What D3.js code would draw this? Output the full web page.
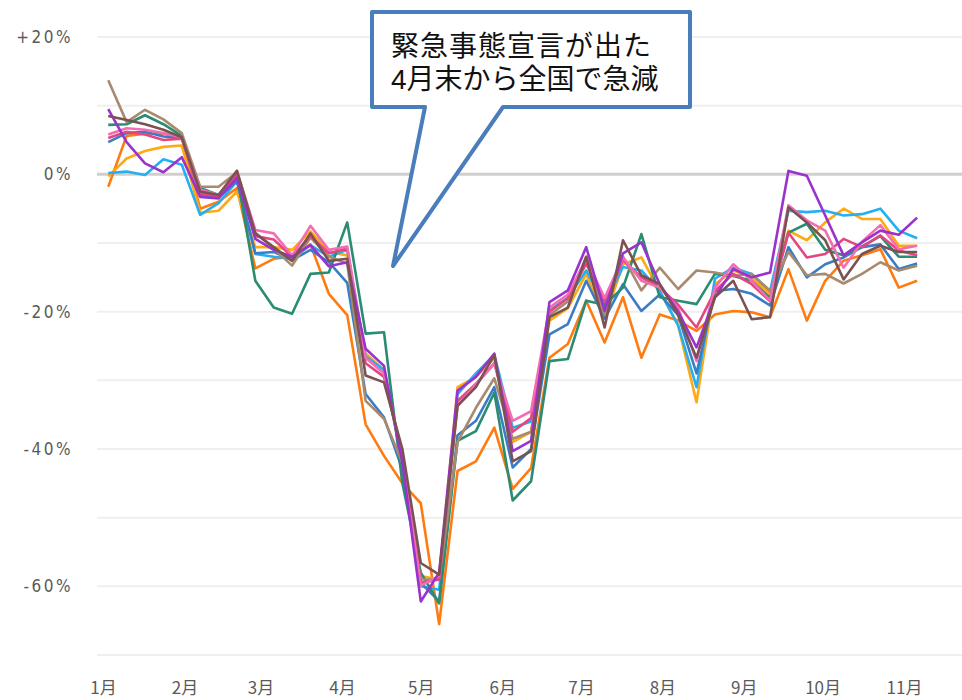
<!DOCTYPE html>
<html><head><meta charset="utf-8">
<script src="https://cdn.jsdelivr.net/npm/d3@7"></script>
<style>
html,body{margin:0;padding:0;background:#fff;}
svg{display:block;}
</style></head>
<body>
<svg id="chart" width="962" height="700"></svg>
<script>
// ---- data ----
const startDate = "2020-01-03";          // first weekly observation
const weekCount = 45;
const monthTicks = ["2020-01-01","2020-02-01","2020-03-01","2020-04-01","2020-05-01","2020-06-01","2020-07-01","2020-08-01","2020-09-01","2020-10-01","2020-11-01"];
const monthLabels = ["1月","2月","3月","4月","5月","6月","7月","8月","9月","10月","11月"];
const yTickValues = [20, 0, -20, -40, -60];
const yTickLabels = ["+20%", "0%", "-20%", "-40%", "-60%"];
const seriesNames = ["orange","amber","lightblue","blue","teal","tan","redpink","pink","purple","darkbrown"];

const orange = [-1.8, 5.6, 5.9, 5.9, 5.4, -5.0, -4.0, -2.0, -13.7, -12.3, -12.0, -10.2, -17.4, -20.5, -36.4, -41.0, -45.0, -47.9, -65.5, -43.2, -41.8, -36.9, -45.8, -42.8, -26.7, -24.7, -18.4, -24.5, -17.9, -26.7, -20.4, -21.3, -22.8, -20.4, -19.9, -20.1, -20.8, -13.8, -21.3, -15.5, -12.6, -11.8, -10.9, -16.5, -15.5];
const amber = [-0.3, 2.3, 3.4, 4.0, 4.2, -5.6, -5.3, -2.5, -10.6, -10.6, -11.0, -8.3, -11.3, -11.8, -26.1, -28.5, -42.0, -58.5, -59.0, -31.0, -29.5, -26.8, -39.0, -37.5, -21.3, -19.5, -14.5, -21.0, -13.1, -12.1, -17.0, -22.0, -33.2, -16.0, -14.0, -15.0, -17.5, -8.2, -9.6, -7.0, -5.0, -6.5, -6.5, -10.4, -10.4];
const lightblue = [0.2, 0.4, -0.1, 2.2, 1.4, -5.9, -4.2, -1.0, -11.6, -12.0, -12.3, -10.3, -12.0, -11.0, -26.5, -28.5, -42.0, -60.0, -60.5, -32.0, -29.0, -26.3, -36.9, -36.0, -19.8, -18.0, -14.0, -19.0, -13.5, -14.0, -17.0, -22.0, -31.0, -15.2, -13.6, -14.5, -17.0, -5.3, -5.5, -5.3, -6.0, -5.8, -5.0, -8.2, -9.3];
const blue = [4.7, 6.0, 6.2, 5.5, 5.3, -3.0, -3.3, -1.0, -11.5, -11.3, -12.5, -11.0, -12.8, -15.8, -32.0, -35.4, -43.0, -59.5, -62.2, -38.0, -35.9, -31.0, -42.7, -40.0, -23.3, -21.8, -15.5, -21.0, -16.0, -19.9, -17.5, -20.5, -29.0, -17.0, -16.7, -17.4, -19.1, -10.6, -15.0, -13.1, -12.1, -10.6, -10.2, -13.8, -13.0];
const teal = [7.2, 7.3, 8.6, 7.3, 5.6, -2.0, -3.0, 0.0, -15.5, -19.4, -20.3, -14.5, -14.3, -7.0, -23.2, -23.0, -45.0, -58.0, -62.5, -38.8, -37.4, -31.8, -47.5, -44.7, -27.2, -26.9, -18.4, -19.0, -16.5, -8.7, -17.9, -18.4, -18.9, -14.5, -14.8, -15.5, -18.0, -8.5, -7.2, -11.0, -11.8, -10.5, -9.0, -12.0, -12.0];
const tan = [13.7, 7.6, 9.4, 8.0, 6.0, -1.8, -1.8, 0.3, -8.5, -10.8, -13.3, -9.2, -12.0, -13.0, -33.0, -35.6, -42.0, -59.0, -59.0, -39.0, -34.0, -29.7, -38.5, -37.5, -20.5, -18.5, -12.0, -20.5, -12.0, -16.9, -13.6, -16.7, -14.0, -14.3, -14.8, -14.5, -17.0, -11.3, -14.7, -14.5, -15.9, -14.5, -12.8, -14.0, -13.3];
const redpink = [5.3, 6.2, 5.8, 5.0, 5.2, -2.8, -3.2, 0.0, -9.0, -9.5, -12.0, -9.0, -11.5, -10.8, -27.5, -29.5, -41.0, -59.5, -59.0, -33.0, -30.5, -27.5, -37.5, -35.5, -20.0, -18.0, -13.0, -18.5, -12.5, -15.0, -16.5, -19.0, -22.3, -17.0, -14.5, -16.0, -18.5, -8.5, -12.1, -11.6, -9.4, -10.6, -8.9, -11.1, -11.8];
const pink = [5.8, 6.7, 6.5, 6.0, 5.4, -2.2, -3.0, 0.5, -8.1, -8.6, -11.8, -7.5, -11.0, -10.5, -26.7, -29.0, -41.0, -59.9, -58.5, -33.7, -30.6, -27.6, -35.9, -34.5, -19.4, -17.5, -12.3, -18.0, -12.1, -15.5, -16.5, -19.5, -27.2, -16.5, -13.1, -15.5, -18.4, -4.5, -6.7, -8.2, -13.6, -9.8, -7.4, -10.9, -10.4];
const purple = [9.5, 4.7, 1.6, 0.3, 2.5, -3.3, -3.5, -0.5, -9.4, -11.0, -12.0, -10.3, -13.4, -12.8, -25.4, -27.9, -42.0, -62.2, -58.0, -31.5, -29.5, -26.1, -40.3, -38.8, -18.6, -16.9, -10.6, -19.9, -11.5, -9.9, -16.0, -20.0, -25.2, -17.9, -13.8, -15.0, -14.3, 0.5, -0.2, -6.0, -11.8, -9.9, -8.2, -8.8, -6.3];
const darkbrown = [8.5, 7.9, 7.3, 6.5, 5.4, -2.5, -3.0, 0.5, -8.6, -10.6, -12.6, -8.6, -12.6, -12.3, -29.3, -30.3, -40.0, -56.6, -58.3, -33.7, -31.0, -26.3, -41.8, -40.3, -20.8, -19.4, -12.0, -22.3, -9.6, -14.7, -16.0, -20.5, -26.7, -17.9, -15.5, -21.1, -20.8, -4.8, -7.0, -9.6, -15.3, -11.6, -10.4, -11.3, -11.3];
const calloutLines = ["緊急事態宣言が出た", "4月末から全国で急減"];

// ---- styles ----
const colors = {orange:"#ff7b10", amber:"#ffaa12", lightblue:"#25aff0", blue:"#3b7dc4", teal:"#2a8c72",
  tan:"#a88a6e", redpink:"#e34782", pink:"#f26db2", purple:"#9a32cd", darkbrown:"#7b5252"};
const seriesData = {orange, amber, lightblue, blue, teal, tan, redpink, pink, purple, darkbrown};

const parse = d3.timeParse("%Y-%m-%d");
const weeks = d3.range(weekCount).map(i => d3.timeDay.offset(parse(startDate), 7 * i));
const months = monthTicks.map(parse);

const svg = d3.select("#chart");
const x = d3.scaleTime().domain([months[0], months[months.length - 1]]).range([103, 904]);
const y = d3.scaleLinear().domain([-70, 20]).range([655, 37]);

// gridlines
const gridVals = d3.range(20, -71, -10);
svg.append("g").selectAll("line").data(gridVals).join("line")
  .attr("x1", 97).attr("x2", 962)
  .attr("y1", d => y(d)).attr("y2", d => y(d))
  .attr("stroke", d => d === 0 ? "#cfcfcf" : "#efefef")
  .attr("stroke-width", d => d === 0 ? 3 : 2);

// y axis labels
const yAxis = d3.axisLeft(y).tickValues(yTickValues).tickSize(0)
  .tickFormat((d, i) => yTickLabels[i]);
const gy = svg.append("g").attr("transform", "translate(76,0)").call(yAxis);
gy.select(".domain").remove();
gy.selectAll("text").attr("font-family", "'DejaVu Sans Condensed','DejaVu Sans',sans-serif")
  .attr("font-size", 17).attr("fill", "#5a5a5a").attr("letter-spacing", "2.5px");

// x axis labels
const xAxis = d3.axisBottom(x).tickValues(months).tickSize(0)
  .tickFormat((d, i) => monthLabels[i]);
const gx = svg.append("g").attr("transform", "translate(0,679)").call(xAxis);
gx.select(".domain").remove();
gx.selectAll("text").attr("font-family", "'Noto Sans CJK JP',sans-serif")
  .attr("font-size", 17).attr("fill", "#5a5a5a");

// lines
const line = d3.line().x((d, i) => x(weeks[i])).y(d => y(d));
svg.append("g").selectAll("path").data(seriesNames).join("path")
  .attr("d", n => line(seriesData[n]))
  .attr("fill", "none")
  .attr("stroke", n => colors[n])
  .attr("stroke-width", 2.6)
  .attr("stroke-linejoin", "round");

// callout
const call = svg.append("g");
call.append("path")
  .attr("d", "M372,12 L690,12 L690,107 L503,107 L393,266 L425,107 L372,107 Z")
  .attr("fill", "#fff").attr("stroke", "#4a7ebb").attr("stroke-width", 4).attr("stroke-linejoin", "round");
call.selectAll("text").data(calloutLines).join("text")
  .attr("x", 391).attr("y", (d, i) => 56 + i * 33)
  .attr("font-family", "'Liberation Sans','Noto Sans CJK JP',sans-serif")
  .attr("font-size", 28).attr("fill", "#111")
  .attr("letter-spacing", (d, i) => i === 0 ? "1px" : "0px")
  .text(d => d);
</script>
</body></html>
